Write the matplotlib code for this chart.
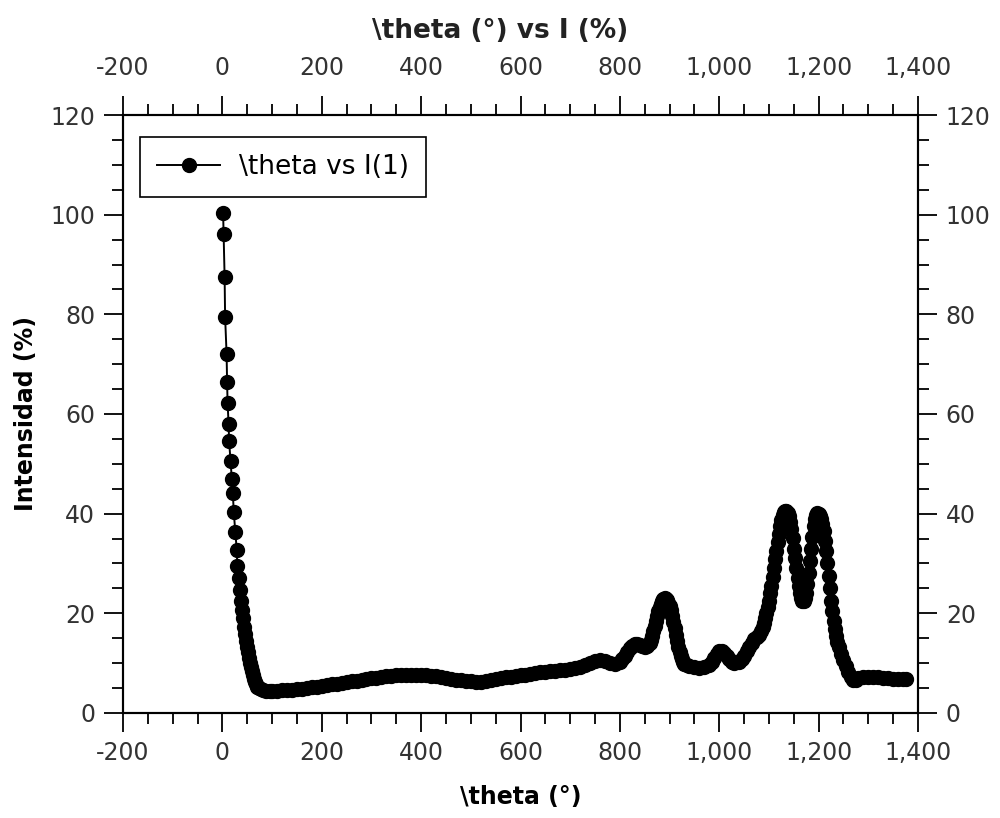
import matplotlib
matplotlib.use("Agg")
import matplotlib.pyplot as plt
from matplotlib.ticker import MultipleLocator, FuncFormatter

# theta (deg) and intensity (%)
theta = [
    1.5, 2.5, 4.5, 5.5, 8.5, 9.5, 10.5, 12.5, 13.5, 16.5, 19, 21, 23, 26, 29, 30, 33, 35,
    37, 39, 41, 43, 45, 47, 49, 51, 53, 55, 57, 59, 61, 63, 65, 67, 70, 73, 77, 82, 88, 95,
    100, 110, 120, 130, 140, 150, 160, 170, 180, 190, 200, 210, 220, 230, 240, 250, 260,
    270, 280, 290, 300, 310, 320, 330, 340, 350, 360, 370, 380, 390, 400, 410, 420, 430,
    440, 450, 460, 470, 480, 490, 500, 510, 520, 530, 540, 550, 560, 570, 580, 590, 600,
    610, 620, 630, 640, 650, 660, 670, 680, 690, 700, 710, 720, 730, 740, 750, 760, 770,
    780, 790, 800, 805, 810, 815, 820, 825, 830, 835, 840, 845, 850, 855, 860,
    862.5, 865, 867.5, 870, 872.5, 875, 877.5, 880, 882.5, 885, 887.5, 890, 892.5, 895,
    897.5, 900, 902.5, 905, 907.5, 910, 912.5, 915, 917.5, 920, 922.5, 925, 927.5, 930,
    935, 940, 950, 960, 970, 980, 985, 990, 995, 1000, 1005, 1010, 1015, 1020, 1025, 1030,
    1040, 1045, 1050, 1055, 1060, 1065, 1070, 1075, 1080, 1085, 1087.5,
    1090, 1092.5, 1095, 1097.5, 1100, 1102.5, 1105, 1107.5, 1110, 1112.5, 1115, 1117.5,
    1120, 1122.5, 1125, 1127.5, 1130, 1132.5, 1135, 1137.5, 1140, 1142.5, 1145, 1147.5,
    1150, 1152.5, 1155, 1157.5, 1160, 1162.5, 1165, 1167.5, 1170, 1172.5, 1175, 1177.5,
    1180, 1182.5, 1185, 1187.5, 1190, 1192.5, 1195, 1197.5, 1200, 1202.5, 1205, 1207.5,
    1210, 1212.5, 1215, 1217.5, 1220, 1222.5, 1225, 1227.5, 1230, 1232.5, 1235, 1237.5,
    1240, 1245, 1250, 1255, 1260, 1265, 1270, 1275, 1280, 1290, 1300, 1310, 1320, 1330,
    1340, 1350, 1360, 1370, 1375,
]
intensity = [
    100.3, 96.1, 87.5, 79.5, 72.0, 66.4, 62.2, 58.0, 54.6, 50.6, 47.0, 44.1, 40.3, 36.3,
    32.7, 29.5, 27.1, 24.7, 22.5, 20.6, 19.0, 17.3, 15.8, 14.5, 13.3, 12.2, 11.1, 10.1,
    9.2, 8.4, 7.6, 6.9, 6.3, 5.8, 5.3, 5.0, 4.8, 4.6, 4.5, 4.5,
    4.5, 4.5, 4.6, 4.6, 4.7, 4.8, 4.9, 5.0, 5.2, 5.3, 5.5, 5.6, 5.8, 5.9, 6.1, 6.2, 6.4,
    6.5, 6.7, 6.8, 7.0, 7.1, 7.3, 7.4, 7.5, 7.6, 7.6, 7.6, 7.6, 7.6, 7.6, 7.6, 7.5, 7.4,
    7.3, 7.1, 6.9, 6.7, 6.6, 6.5, 6.4, 6.3, 6.3, 6.4, 6.6, 6.8, 7.0, 7.2, 7.3, 7.4, 7.6,
    7.7, 7.9, 8.0, 8.2, 8.3, 8.4, 8.5, 8.6, 8.7, 8.9, 9.1, 9.3, 9.6, 10.0, 10.4, 10.6, 10.4,
    10.0, 9.8, 10.2, 10.8, 11.5, 12.3, 13.0, 13.5, 13.8, 13.8, 13.6, 13.4, 13.2, 13.4, 14.0,
    14.7, 15.5, 16.5, 17.5, 18.5, 19.5, 20.4, 21.2, 21.9, 22.4, 22.8, 23.0, 22.9, 22.6,
    22.1, 21.5, 20.6, 19.5, 18.3, 17.0, 15.7, 14.5, 13.3, 12.3, 11.5, 10.8, 10.3, 9.9,
    9.6, 9.4, 9.2, 9.1, 9.2, 9.6, 10.2, 11.0, 11.8, 12.4, 12.4, 12.0, 11.4, 10.8, 10.3, 10.0,
    10.2, 10.8, 11.5, 12.4, 13.3, 14.1, 14.8, 15.3, 15.6, 16.5, 17.2,
    18.0, 19.0, 20.0, 21.2, 22.5, 24.0, 25.5, 27.2, 29.0, 30.8, 32.5, 34.3,
    36.0, 37.5, 38.8, 39.7, 40.3, 40.6, 40.5, 40.1, 39.5, 38.4, 37.0, 35.1,
    33.0, 31.0, 29.0, 27.1, 25.5, 24.0, 23.0, 22.5, 22.5, 23.0, 24.0, 25.8,
    28.0, 30.5, 33.0, 35.4, 37.5, 38.9, 39.8, 40.1, 40.0, 39.6, 39.0, 37.9,
    36.5, 34.6, 32.5, 30.0, 27.5, 25.0, 22.5, 20.4, 18.5, 16.9, 15.5, 14.3,
    13.3, 11.8, 10.6, 9.4, 8.2, 7.2, 6.6, 6.6, 7.0, 7.2, 7.2, 7.2, 7.2, 7.1,
    7.0, 6.9, 6.9, 6.9, 6.9,
]

plt.rcParams['font.family'] = ['DejaVu Sans']
label_color = '#333333'


def comma_fmt(v, pos):
    return f"{v:,.0f}"


def style_x(axis):
    axis.set_xlim(-200, 1400)
    axis.xaxis.set_major_locator(MultipleLocator(200))
    axis.xaxis.set_minor_locator(MultipleLocator(50))
    axis.xaxis.set_major_formatter(FuncFormatter(comma_fmt))


fig = plt.figure(figsize=(10, 8.18), dpi=100)
ax = fig.add_axes([0.123, 0.1284, 0.795, 0.7310])

ax.plot(theta, intensity, '-o', color='black', lw=1.4, ms=10, label='\\theta vs I(1)')

style_x(ax)
ax.set_ylim(0, 120)
ax.yaxis.set_major_locator(MultipleLocator(20))
ax.yaxis.set_minor_locator(MultipleLocator(5))

ax.tick_params(which='both', direction='out', top=False, right=True,
               labeltop=False, labelright=True, width=1.3, colors='black',
               labelcolor=label_color, labelsize=17)
ax.tick_params(which='major', length=14, pad=6)
ax.tick_params(which='minor', length=8)
for s in ax.spines.values():
    s.set_linewidth(1.5)

# top axis with its own (larger) label padding
ax2 = ax.twiny()
style_x(ax2)
ax2.tick_params(which='both', direction='out', top=True, bottom=False,
                labeltop=True, labelbottom=False, width=1.3, colors='black',
                labelcolor=label_color, labelsize=17)
ax2.tick_params(which='major', length=14, pad=11)
ax2.tick_params(which='minor', length=8)
for s in ax2.spines.values():
    s.set_linewidth(1.5)

ax.set_xlabel('\\theta (°)', fontsize=17, fontweight='bold')
ax.xaxis.set_label_coords(0.5, -0.12)
ax.set_ylabel('Intensidad (%)', fontsize=17, fontweight='bold')
ax.yaxis.set_label_coords(-0.107, 0.5)
fig.text(0.5, 1 - 31 / 818, '\\theta (°) vs I (%)', ha='center', va='center',
         fontsize=19, fontweight='bold', color='#222222')

leg = ax.legend(loc='upper left', bbox_to_anchor=(0.0214, 0.9632), borderaxespad=0,
                fontsize=19, fancybox=False, edgecolor='black', framealpha=1,
                borderpad=0.65, handlelength=2.4, handletextpad=0.7)
leg.get_frame().set_linewidth(1.2)

fig.savefig('out.png', dpi=100)
